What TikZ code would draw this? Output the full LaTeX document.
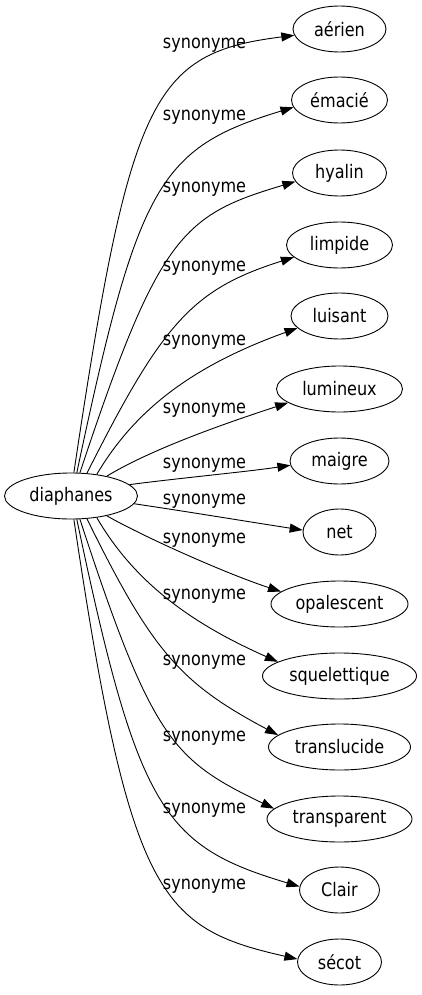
\documentclass[tikz,border=0pt]{standalone}
\usepackage{fontspec}
\setmainfont{DejaVu Sans}[FakeStretch=0.86]
\usetikzlibrary{shapes.geometric,arrows.meta}
\begin{document}
\begin{tikzpicture}[x=1pt,y=-1pt,
  every node/.style={font=\fontsize{18.67}{22}\selectfont},
  nd/.style={draw, ellipse, minimum height=46pt, inner sep=0pt, line width=0.9pt},
  lbl/.style={inner sep=0pt},
  syn/.style={draw, line width=0.9pt, -{Triangle[length=13pt,width=9pt]}}]
\useasboundingbox (0,0) rectangle (422,995);
\node[nd, minimum width=133pt] (root) at (71,496) {diaphanes};
\node[nd, minimum width=93pt] (aerien) at (339.5,29) {aérien};
\node[nd, minimum width=96pt] (emacie) at (339.5,100) {émacié};
\node[nd, minimum width=94pt] (hyalin) at (339.5,173) {hyalin};
\node[nd, minimum width=106pt] (limpide) at (339.5,245) {limpide};
\node[nd, minimum width=97pt] (luisant) at (339.5,316) {luisant};
\node[nd, minimum width=126pt] (lumineux) at (339.5,389) {lumineux};
\node[nd, minimum width=99pt] (maigre) at (339.5,461) {maigre};
\node[nd, minimum width=73pt] (net) at (339.5,532) {net};
\node[nd, minimum width=137pt] (opalescent) at (339.5,604) {opalescent};
\node[nd, minimum width=154pt] (squelettique) at (339.5,676) {squelettique};
\node[nd, minimum width=142pt] (translucide) at (339.5,747) {translucide};
\node[nd, minimum width=145pt] (transparent) at (339.5,819) {transparent};
\node[nd, minimum width=80pt] (clair) at (339.5,890) {Clair};
\node[nd, minimum width=84pt] (secot) at (339.5,962) {sécot};
\node[lbl] (l1) at (204.5,45) {synonyme};
\node[lbl] (l2) at (204.5,117) {synonyme};
\node[lbl] (l3) at (204.5,189) {synonyme};
\node[lbl] (l4) at (204.5,268) {synonyme};
\node[lbl] (l5) at (204.5,342) {synonyme};
\node[lbl] (l6) at (204.5,410) {synonyme};
\node[lbl] (l7) at (204.5,465) {synonyme};
\node[lbl] (l8) at (204.5,501) {synonyme};
\node[lbl] (l9) at (204.5,540) {synonyme};
\node[lbl] (l10) at (204.5,596) {synonyme};
\node[lbl] (l11) at (204.5,662) {synonyme};
\node[lbl] (l12) at (204.5,738) {synonyme};
\node[lbl] (l13) at (204.5,810) {synonyme};
\node[lbl] (l14) at (204.5,886) {synonyme};
\draw[syn] (root.83) .. controls (130,97) and (152,53) .. (aerien.188);
\draw[syn] (root.76) .. controls (138,184) and (159,148) .. (emacie.189);
\draw[syn] (root.69) .. controls (159,234) and (183,215) .. (hyalin.191);
\draw[syn] (root.55) .. controls (163,322) and (193,289) .. (limpide.195);
\draw[syn] (root.40) .. controls (136,408) and (195,365) .. (luisant.196);
\draw[syn] (root.29) .. controls (150,450) and (220,425) .. (lumineux.195);
\draw[syn] (root.11) .. controls (180,478) and (245,472) .. (maigre.185);
\draw[syn] (root.-7) .. controls (190,512) and (250,522) .. (net.177);
\draw[syn] (root.-29) .. controls (150,540) and (230,575) .. (opalescent.168);
\draw[syn] (root.-40) .. controls (136,585) and (195,625) .. (squelettique.167);
\draw[syn] (root.-55) .. controls (152,651) and (180,683) .. (translucide.169);
\draw[syn] (root.-69) .. controls (152,740) and (173,760) .. (transparent.171);
\draw[syn] (root.-76) .. controls (138,810) and (163,846) .. (clair.175);
\draw[syn] (root.-83) .. controls (130,897) and (160,928) .. (secot.176);
\end{tikzpicture}
\end{document}
